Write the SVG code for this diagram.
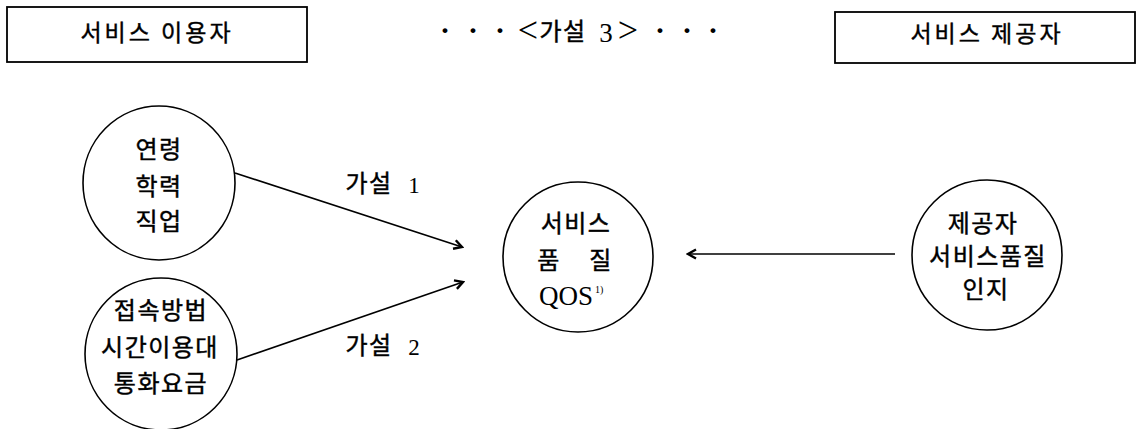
<svg xmlns="http://www.w3.org/2000/svg" width="1142" height="429" viewBox="0 0 1142 429">
<style>
.bg{fill:#fff}
.box{fill:#fff;stroke:#000;stroke-width:1.8}
.node{fill:#fff;stroke:#000;stroke-width:1.6}
.k{font-family:"Noto Sans CJK KR","Noto Sans",sans-serif;font-size:24px;fill:#000;stroke:#000;stroke-width:0.45;text-anchor:middle;letter-spacing:1.5px}
.h{font-family:"Noto Sans CJK KR","Noto Sans",sans-serif;font-size:23px;fill:#000;stroke:#000;stroke-width:0.4;text-anchor:middle;letter-spacing:3px}
.s{font-family:"Liberation Serif","Noto Sans CJK KR",serif;fill:#000}
.dot{fill:#000}
.edge{fill:none;stroke:#000;stroke-width:1.6}
</style>
<defs>
<marker id="arr" viewBox="0 0 12 12" refX="10" refY="6" markerWidth="12" markerHeight="12" markerUnits="userSpaceOnUse" orient="auto">
<path d="M2,1.5 L10,6 L2,10.5" fill="none" stroke="#000" stroke-width="2.4" stroke-linejoin="miter"/>
</marker>
</defs>
<rect class="bg" x="0" y="0" width="1142" height="429"/>

<g id="user">
<rect class="box" x="7" y="7" width="300" height="55"/>
<text class="h" x="157" y="41">서비스 이용자</text>
</g>

<g id="title">
<text class="s" font-size="30" font-weight="bold" text-anchor="middle" y="40"><tspan x="445">·</tspan><tspan x="473">·</tspan><tspan x="500">·</tspan></text>
<text class="s" font-size="36" text-anchor="middle" x="528" y="42">&lt;</text>
<text class="k" x="563" y="40" font-size="22" letter-spacing="0">가설</text>
<text class="s" font-size="27" text-anchor="middle" x="606" y="42">3</text>
<text class="s" font-size="36" text-anchor="middle" x="628" y="42">&gt;</text>
<text class="s" font-size="30" font-weight="bold" text-anchor="middle" y="40"><tspan x="660">·</tspan><tspan x="687">·</tspan><tspan x="713">·</tspan></text>
</g>

<g id="provider">
<rect class="box" x="835" y="12" width="300" height="51"/>
<text class="h" x="987" y="42">서비스 제공자</text>
</g>

<g id="n1">
<ellipse class="node" cx="159" cy="183" rx="76" ry="77"/>
<text class="k" x="159" y="158">연령</text>
<text class="k" x="159" y="195">학력</text>
<text class="k" x="159" y="230">직업</text>
</g>

<g id="n2">
<circle class="node" cx="161" cy="354" r="76"/>
<text class="k" x="161" y="319">접속방법</text>
<text class="k" x="160" y="356">시간이용대</text>
<text class="k" x="161" y="392">통화요금</text>
</g>

<g id="qos">
<circle class="node" cx="578" cy="257" r="75"/>
<text class="k" x="576" y="232" letter-spacing="2.5">서비스</text>
<text class="k" x="549" y="269">품</text>
<text class="k" x="601" y="269">질</text>
<text class="s" font-size="27" x="539" y="305">QOS</text>
<text class="s" font-size="10" x="595" y="293">1)</text>
</g>

<g id="n3">
<circle class="node" cx="987" cy="255" r="75"/>
<text class="k" x="983" y="232">제공자</text>
<text class="k" x="988" y="265">서비스품질</text>
<text class="k" x="986" y="298">인지</text>
</g>

<g id="connectors">
<line class="edge" x1="235" y1="173" x2="462" y2="247" marker-end="url(#arr)"/>
<line class="edge" x1="237" y1="360" x2="463" y2="282" marker-end="url(#arr)"/>
<line class="edge" x1="895" y1="254" x2="688" y2="254" marker-end="url(#arr)"/>
<text class="k" x="369" y="192" font-size="22" letter-spacing="0" stroke-width="0.2">가설</text>
<text class="s" font-size="23" text-anchor="middle" x="414" y="193">1</text>
<text class="k" x="369" y="354" font-size="22" letter-spacing="0" stroke-width="0.2">가설</text>
<text class="s" font-size="23" text-anchor="middle" x="414" y="355">2</text>
</g>
</svg>
